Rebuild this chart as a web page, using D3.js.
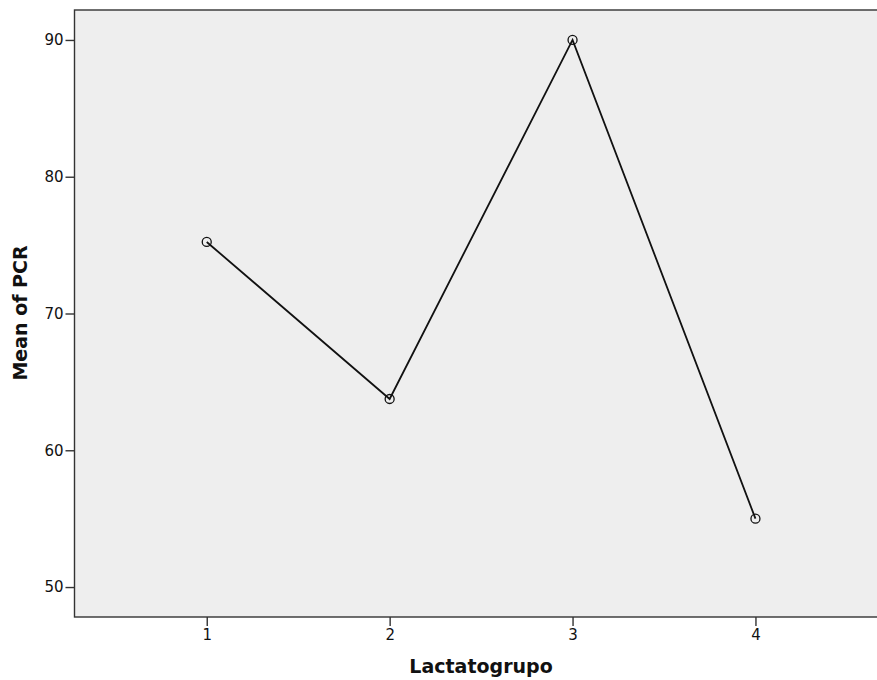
<!DOCTYPE html>
<html><head><meta charset="utf-8">
<script src="https://cdn.jsdelivr.net/npm/d3@7"></script>
<style>body{margin:0;background:#fff}svg{display:block}</style>
</head><body>
<svg id="c" width="877" height="680"></svg>
<script>
const categories = ["1", "2", "3", "4"];
const meanPCR = [75.23, 63.75, 90.0, 55.0];
const yTicks = [50, 60, 70, 80, 90];
const xTitle = "Lactatogrupo";
const yTitle = "Mean of PCR";

const svg = d3.select("#c");
const L = 74.5, T = 10, R = 878, B = 617;
const x = d3.scaleLinear().domain([0.277, 4.67]).range([L, R]);
const y = d3.scaleLinear().domain([47.81, 92.19]).range([B, T]);

svg.append("rect").attr("x", L).attr("y", T).attr("width", R - L).attr("height", B - T)
  .attr("fill", "#eeeeee").attr("stroke", "#333").attr("stroke-width", 1.4);

const font = "'DejaVu Sans', Verdana, sans-serif";
const yAxis = svg.append("g").attr("transform", `translate(${L},0)`)
  .call(d3.axisLeft(y).tickValues(yTicks).tickSize(9).tickPadding(2).tickFormat(d3.format("d")));
const xAxis = svg.append("g").attr("transform", `translate(0,${B})`)
  .call(d3.axisBottom(x).tickValues(categories.map(Number)).tickSize(9).tickPadding(3).tickFormat(d => String(d)));
[yAxis, xAxis].forEach(g => {
  g.select(".domain").remove();
  g.selectAll(".tick line").attr("stroke", "#333").attr("stroke-width", 1.4);
  g.selectAll(".tick text").attr("font-family", font).attr("font-size", 15).attr("fill", "#111");
});

const data = categories.map((c, i) => ({c: +c, v: meanPCR[i]}));
svg.append("path").datum(data)
  .attr("d", d3.line().x(d => x(d.c)).y(d => y(d.v)))
  .attr("fill", "none").attr("stroke", "#111").attr("stroke-width", 1.8);
svg.selectAll("circle.pt").data(data).join("circle").attr("class", "pt")
  .attr("cx", d => x(d.c)).attr("cy", d => y(d.v)).attr("r", 4.5)
  .attr("fill", "none").attr("stroke", "#111").attr("stroke-width", 1.3);

svg.append("text").attr("x", 481).attr("y", 673).attr("text-anchor", "middle")
  .attr("font-family", font).attr("font-weight", "bold").attr("font-size", 19).attr("fill", "#111").text(xTitle);
svg.append("text").attr("transform", `translate(27,313) rotate(-90)`).attr("text-anchor", "middle")
  .attr("font-family", font).attr("font-weight", "bold").attr("font-size", 19).attr("fill", "#111").text(yTitle);
</script>
</body></html>
